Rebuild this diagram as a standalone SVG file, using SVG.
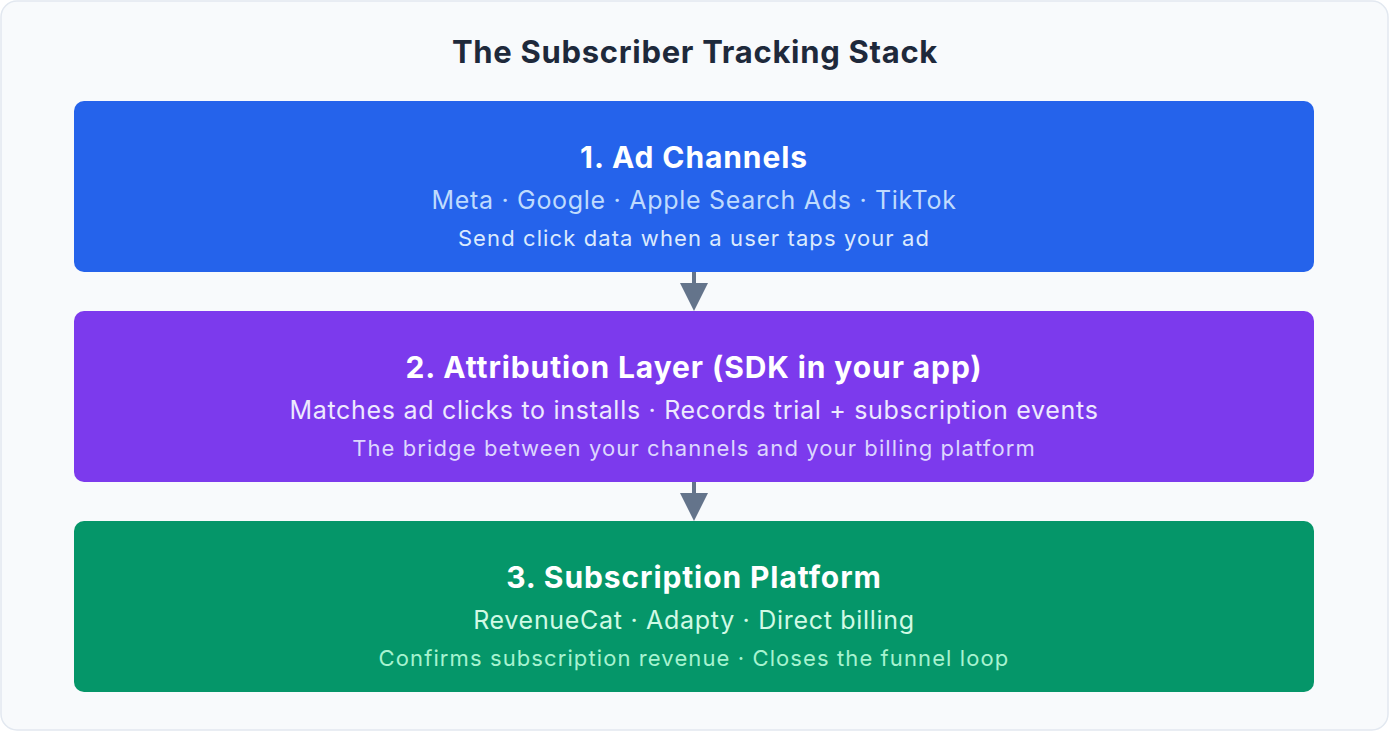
<svg xmlns="http://www.w3.org/2000/svg" width="1390" height="732" viewBox="0 0 1390 732">
<style>
text{font-family:Inter,"Noto Sans","Liberation Sans",sans-serif;text-anchor:middle}
.h{font-size:31px;font-weight:700;fill:#1e293b;letter-spacing:0.7px}
.t{font-size:30px;font-weight:700;fill:#ffffff;letter-spacing:0.9px}
.s{font-size:25px;font-weight:400;letter-spacing:0.7px}
.d{font-size:22px;font-weight:400;letter-spacing:1.1px}
</style>
<rect x="1" y="1" width="1387" height="729" rx="16" fill="#f8fafc" stroke="#e2e8f0" stroke-width="1.5"/>
<text class="h" x="695" y="63">The Subscriber Tracking Stack</text>
<g id="connectors" stroke="#64748b" stroke-width="4" fill="none">
<path d="M694,272 L694,284"/>
<path d="M694,482 L694,494"/>
<path d="M680,283 L708,283 L694,311 Z" fill="#64748b" stroke="none"/>
<path d="M680,493 L708,493 L694,521 Z" fill="#64748b" stroke="none"/>
</g>
<g id="node1">
<rect x="74" y="101" width="1240" height="171" rx="10" fill="#2563eb"/>
<text class="t" x="694" y="168">1. Ad Channels</text>
<text class="s" x="694" y="209" fill="#bfdbfe">Meta · Google · Apple Search Ads · TikTok</text>
<text class="d" x="694" y="246" fill="#dbeafe">Send click data when a user taps your ad</text>
</g>
<g id="node2">
<rect x="74" y="311" width="1240" height="171" rx="10" fill="#7c3aed"/>
<text class="t" x="694" y="378">2. Attribution Layer (SDK in your app)</text>
<text class="s" x="694" y="419" fill="#ede9fe">Matches ad clicks to installs · Records trial + subscription events</text>
<text class="d" x="694" y="456" fill="#ddd6fe">The bridge between your channels and your billing platform</text>
</g>
<g id="node3">
<rect x="74" y="521" width="1240" height="171" rx="10" fill="#059669"/>
<text class="t" x="694" y="588">3. Subscription Platform</text>
<text class="s" x="694" y="629" fill="#d1fae5">RevenueCat · Adapty · Direct billing</text>
<text class="d" x="694" y="666" fill="#a7f3d0">Confirms subscription revenue · Closes the funnel loop</text>
</g>
</svg>
